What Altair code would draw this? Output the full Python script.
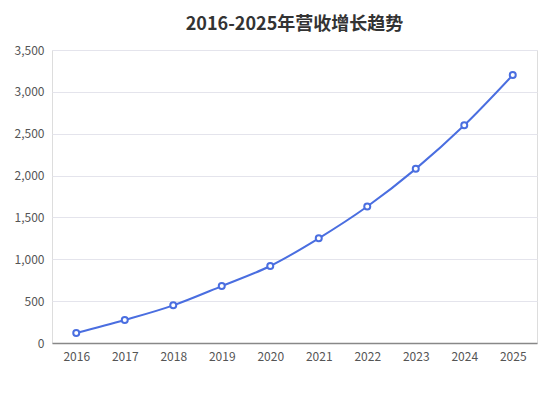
import altair as alt
import pandas as pd

years = ["2016", "2017", "2018", "2019", "2020", "2021", "2022", "2023", "2024", "2025"]
revenue = [120, 275, 450, 680, 920, 1250, 1630, 2080, 2600, 3200]

df = pd.DataFrame({"year": years, "revenue": revenue})

FONT = "Noto Sans CJK SC"
BLUE = "#4a6ee0"

base = alt.Chart(df).encode(
    x=alt.X("year:O", sort=years,
            scale=alt.Scale(type="point", padding=0.5),
            axis=alt.Axis(title=None, labelAngle=0, ticks=False, domain=True,
                          domainColor="#888888", domainWidth=1.5, labelColor="#555555",
                          labelFontSize=12, labelPadding=8, labelFont=FONT, grid=False)),
    y=alt.Y("revenue:Q",
            scale=alt.Scale(domain=[0, 3500]),
            axis=alt.Axis(title=None, values=[0, 500, 1000, 1500, 2000, 2500, 3000, 3500],
                          format=",.0f", ticks=False, domain=False, gridColor="#e4e4ec",
                          gridWidth=1, labelColor="#555555", labelFontSize=12,
                          labelPadding=8, labelFont=FONT)),
)

line = base.mark_line(color=BLUE, strokeWidth=2, interpolate="monotone")
pts = base.mark_point(shape="circle", filled=True, fill="white", stroke=BLUE,
                      strokeWidth=2, size=36, opacity=1)

chart = (line + pts).properties(
    width=485, height=293,
    title=alt.TitleParams("2016-2025年营收增长趋势", font=FONT, fontSize=18,
                          fontWeight="bold", color="#333333", anchor="middle", offset=10),
    padding={"left": 6, "top": 8, "right": 4, "bottom": 10},
).configure_view(stroke=None).configure(background="white")

chart.save("out.html", embed_options={"renderer": "svg", "actions": False})
